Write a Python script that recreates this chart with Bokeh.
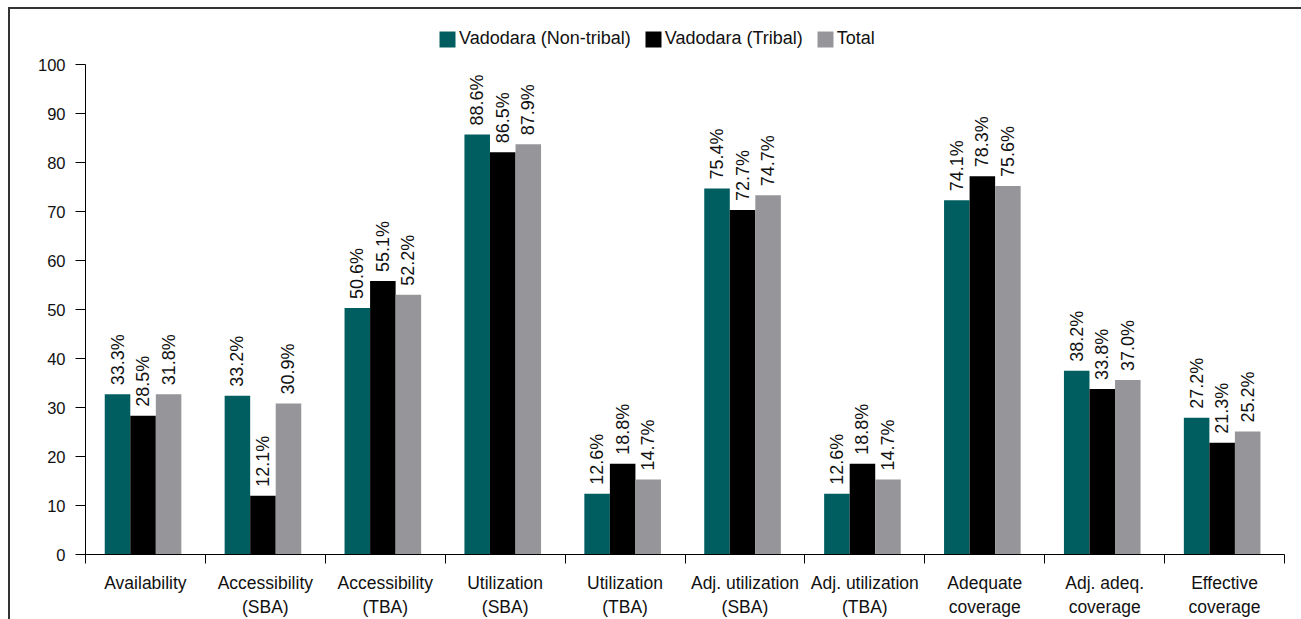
import math
from bokeh.plotting import figure
from bokeh.models import (ColumnDataSource, FixedTicker, Legend, LegendItem,
                          Range1d, InlineStyleSheet)
from bokeh.core.properties import value
from bokeh.embed import file_html
from bokeh.resources import INLINE

# ---- data -------------------------------------------------------------
categories = ["Availability", "Accessibility\n(SBA)", "Accessibility\n(TBA)",
              "Utilization\n(SBA)", "Utilization\n(TBA)", "Adj. utilization\n(SBA)",
              "Adj. utilization\n(TBA)", "Adequate\ncoverage", "Adj. adeq.\ncoverage",
              "Effective\ncoverage"]
series_names = ["Vadodara (Non-tribal)", "Vadodara (Tribal)", "Total"]

# bar heights as drawn
nontribal = [32.7, 32.4, 50.3, 85.7, 12.4, 74.7, 12.4, 72.3, 37.5, 27.9]
tribal = [28.3, 12.0, 55.8, 82.1, 18.5, 70.3, 18.5, 77.2, 33.8, 22.8]
total = [32.7, 30.8, 53.0, 83.7, 15.3, 73.3, 15.3, 75.2, 35.6, 25.1]

# value labels as printed
nontribal_lbl = ["33.3%", "33.2%", "50.6%", "88.6%", "12.6%", "75.4%", "12.6%", "74.1%", "38.2%", "27.2%"]
tribal_lbl = ["28.5%", "12.1%", "55.1%", "86.5%", "18.8%", "72.7%", "18.8%", "78.3%", "33.8%", "21.3%"]
total_lbl = ["31.8%", "30.9%", "52.2%", "87.9%", "14.7%", "74.7%", "14.7%", "75.6%", "37.0%", "25.2%"]

y_ticks = [0, 10, 20, 30, 40, 50, 60, 70, 80, 90, 100]

# ---- style ------------------------------------------------------------
FONT = "Liberation Sans"
colors = ["#005E60", "#000000", "#96969A"]
bar_w = 0.213
shift = -0.02
offsets = [-bar_w + shift, shift, bar_w + shift]

TOP = 20       # frame top (px)
BOTTOM = 65    # space below frame (px)
frame_h = 619 - TOP - BOTTOM
y_end = 100 * frame_h / 490.0   # 100 lies 490 px above the baseline

css = """
:host::after {
  content: "";
  position: absolute;
  left: 8px; top: 7px; right: 0px; bottom: 0px;
  border-left: 2px solid #333333;
  border-top: 2px solid #333333;
  pointer-events: none;
}
"""

p = figure(width=1301, height=619, output_backend="svg", toolbar_location=None,
           x_range=Range1d(0, len(categories)), y_range=Range1d(0, y_end),
           min_border_left=85, min_border_right=17, min_border_top=TOP,
           min_border_bottom=BOTTOM, stylesheets=[InlineStyleSheet(css=css)])
p.outline_line_color = None
p.xgrid.visible = False
p.ygrid.visible = False
p.background_fill_color = "white"
p.border_fill_color = "white"

renderers = []
for vals, lbls, off, col in zip([nontribal, tribal, total],
                                [nontribal_lbl, tribal_lbl, total_lbl],
                                offsets, colors):
    src = ColumnDataSource(dict(x=[i + 0.5 + off for i in range(len(categories))],
                                top=vals, lbl=lbls))
    r = p.vbar(x="x", top="top", width=bar_w, bottom=0, source=src,
               fill_color=col, line_color=None)
    renderers.append(r)
    p.text(x="x", y="top", text="lbl", source=src, angle=math.pi / 2,
           text_align="left", text_baseline="middle", y_offset=-9,
           text_font=value(FONT), text_font_size="18px", text_color="#111111")

# x axis: labels at centres, boundary ticks as minor ticks
xa = p.xaxis[0]
xa.ticker = FixedTicker(ticks=[i + 0.5 for i in range(len(categories))],
                        minor_ticks=list(range(len(categories) + 1)))
xa.major_label_overrides = {i + 0.5: c for i, c in enumerate(categories)}
xa.major_tick_out = 0
xa.major_tick_in = 0
xa.minor_tick_out = 9
xa.minor_tick_in = 0
xa.minor_tick_line_color = "#000000"
xa.axis_line_color = "#000000"
xa.major_label_standoff = 9
xa.major_label_text_font = FONT
xa.major_label_text_font_size = "17.5px"
xa.major_label_text_color = "#111111"

ya = p.yaxis[0]
ya.ticker = FixedTicker(ticks=y_ticks)
ya.bounds = (0, 100)
ya.major_tick_out = 10
ya.major_tick_in = 0
ya.minor_tick_line_color = None
ya.axis_line_color = "#000000"
ya.major_tick_line_color = "#000000"
ya.major_label_standoff = 10
ya.major_label_text_font = FONT
ya.major_label_text_font_size = "16.5px"
ya.major_label_text_color = "#111111"

legend = Legend(items=[LegendItem(label=n, renderers=[r]) for n, r in zip(series_names, renderers)],
                orientation="horizontal", location=(352, frame_h - (44 - TOP) - 5),
                glyph_width=20, glyph_height=20, label_height=20,
                label_standoff=2, spacing=12, padding=0, margin=0,
                border_line_color=None, background_fill_alpha=0,
                label_text_font=FONT, label_text_font_size="18px",
                label_text_color="#111111")
p.add_layout(legend, "center")

open("out.html", "w").write(file_html(p, INLINE))
